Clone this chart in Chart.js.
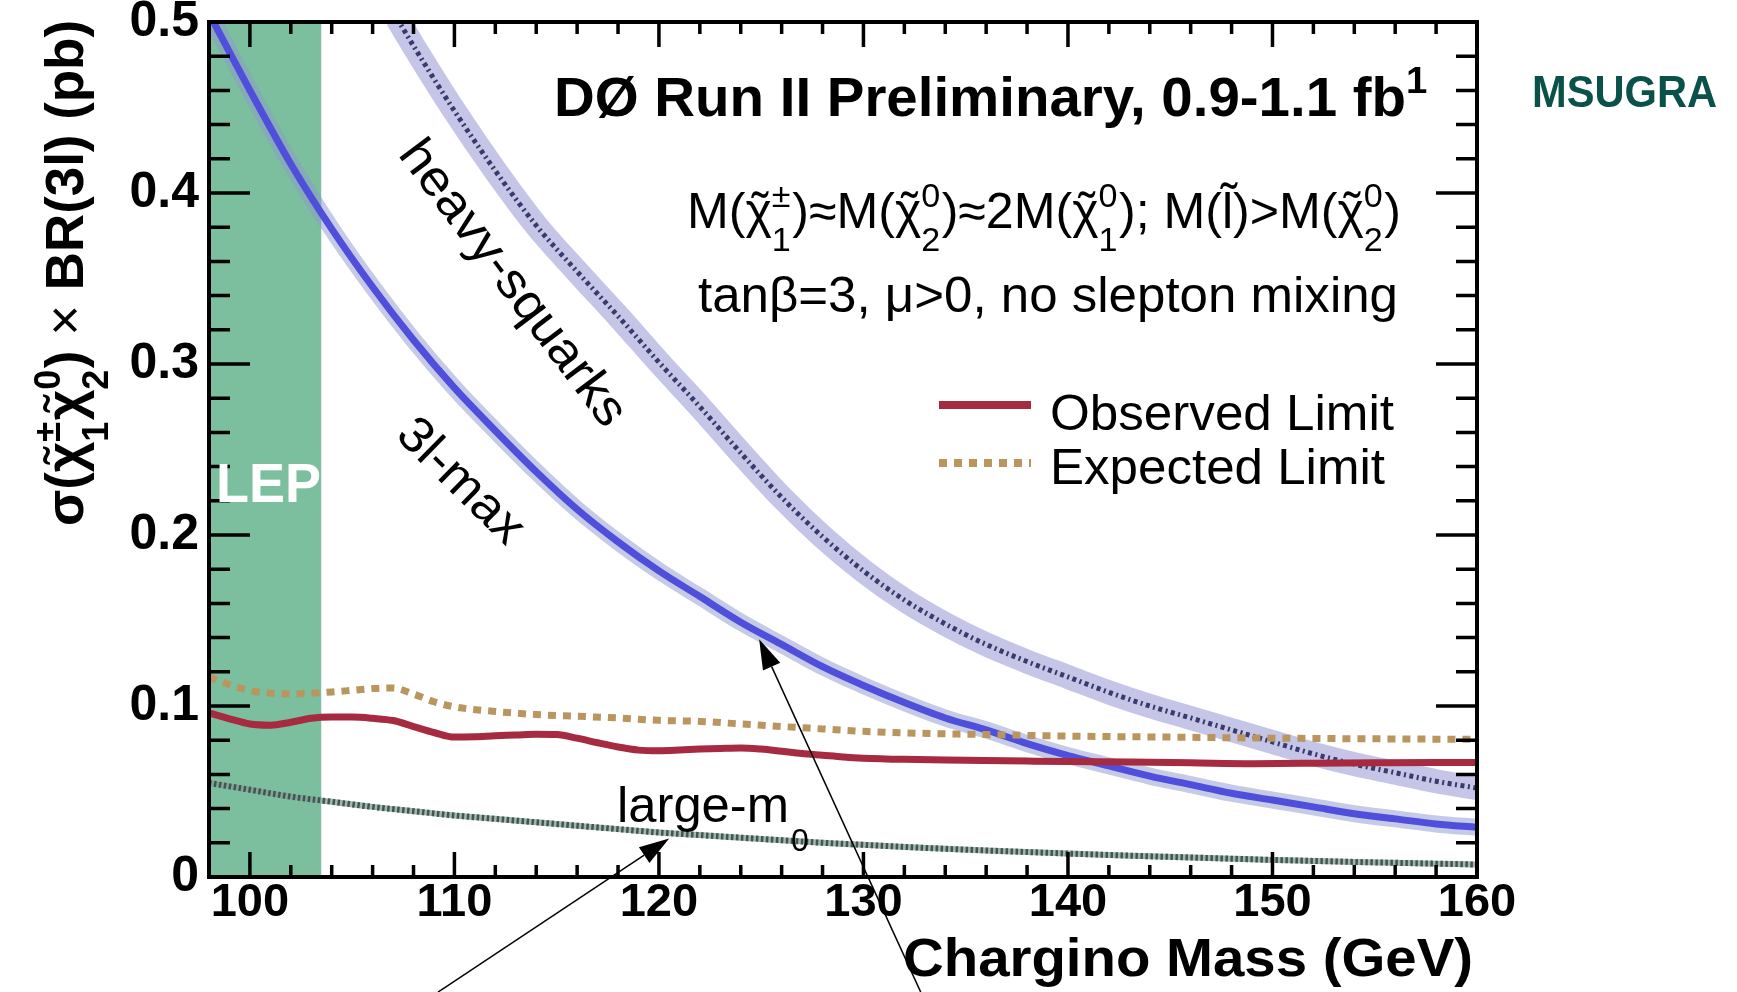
<!DOCTYPE html>
<html lang="en">
<head>
<meta charset="utf-8">
<title>Chargino / neutralino trilepton cross-section limit</title>
<script src="https://cdn.jsdelivr.net/npm/chart.js@4.4.1/dist/chart.umd.min.js"></script>
<style>
  html, body { margin: 0; padding: 0; background: #ffffff; }
  canvas { display: block; }
</style>
</head>
<body>
<canvas id="limitChart" width="1737" height="992"></canvas>
<script>
// ---- data -----------------------------------------------------------------
// chargino mass grid (GeV) for the model predictions
const massGrid = [98, 100, 102, 104, 106, 108, 110, 112, 114, 116, 118, 120, 122, 124, 126, 128,
                  130, 132, 134, 136, 138, 140, 142, 144, 146, 148, 150, 152, 154, 156, 158, 160];

// sigma x BR(3l) in pb, "3l-max" scenario
const sigma3lMax = [0.505, 0.460, 0.417, 0.379, 0.345, 0.314, 0.286, 0.261, 0.237, 0.215, 0.196, 0.179,
                    0.164, 0.149, 0.136, 0.123, 0.112, 0.102, 0.093, 0.086, 0.078, 0.071, 0.065, 0.059,
                    0.054, 0.049, 0.045, 0.041, 0.037, 0.034, 0.031, 0.029];

// sigma x BR(3l) in pb, "large-m0" scenario
const sigmaLargeM0 = [0.055, 0.051, 0.047, 0.044, 0.041, 0.0385, 0.036, 0.034, 0.032, 0.030, 0.028, 0.026,
                      0.0245, 0.023, 0.0215, 0.020, 0.0188, 0.0176, 0.0165, 0.0155, 0.0146, 0.0137, 0.0129, 0.0121,
                      0.0114, 0.0107, 0.0100, 0.0094, 0.0088, 0.0083, 0.0078, 0.0073];

// "heavy-squarks" scenario (starts where it enters the frame)
const massHeavySq = [107.2, 108, 110, 112, 114, 116, 118, 120, 122, 124, 126, 128, 130, 132, 134,
                     136, 138, 140, 142, 144, 146, 148, 150, 152, 154, 156, 158, 160];
const sigmaHeavySq = [0.502, 0.486, 0.448, 0.413, 0.381, 0.354, 0.328, 0.301, 0.275, 0.248, 0.222, 0.199,
                      0.179, 0.162, 0.148, 0.136, 0.126, 0.117, 0.108, 0.100, 0.093, 0.086, 0.079, 0.072,
                      0.066, 0.061, 0.056, 0.052];

// observed 95% CL limit
const massObserved = [98, 99, 100, 101, 102, 103, 104, 105, 106, 107, 108, 109, 110, 111, 112, 113, 114,
                      115, 116, 117, 118, 119, 120, 121, 122, 123, 124, 125, 126, 127, 128, 129, 130,
                      132, 135, 138, 140, 143, 146, 149, 152, 155, 158, 160];
const limitObserved = [0.096, 0.0925, 0.0895, 0.0888, 0.0905, 0.0928, 0.0935, 0.0935, 0.0928, 0.0915, 0.0880,
                       0.0845, 0.0818, 0.0820, 0.0826, 0.0830, 0.0835, 0.0833, 0.0812, 0.0785, 0.0760, 0.0742,
                       0.0738, 0.0742, 0.0748, 0.0752, 0.0755, 0.0748, 0.0735, 0.0722, 0.0712, 0.0702, 0.0695,
                       0.0688, 0.0683, 0.0678, 0.0675, 0.0672, 0.0668, 0.0663, 0.0665, 0.0668, 0.0670, 0.0670];

// expected 95% CL limit
const massExpected = [98, 99, 100, 101, 102, 103, 104, 105, 106, 107, 108, 109, 110, 112, 114, 116, 118,
                      120, 122, 124, 126, 128, 130, 132, 134, 136, 138, 140, 145, 150, 155, 160];
const limitExpected = [0.117, 0.1125, 0.109, 0.1075, 0.107, 0.1075, 0.1082, 0.1092, 0.1102, 0.1105, 0.1070,
                       0.1025, 0.0995, 0.0968, 0.0950, 0.0940, 0.0930, 0.0916, 0.0910, 0.0895, 0.0880, 0.0866,
                       0.0852, 0.0843, 0.0837, 0.0833, 0.0828, 0.0824, 0.0818, 0.0812, 0.0808, 0.0805];

// LEP exclusion in chargino mass (GeV)
const lepExcluded = [98, 103.5];

// axis ticks
const xTickLabels = [100, 110, 120, 130, 140, 150, 160];
const yTickLabels = [0, 0.1, 0.2, 0.3, 0.4, 0.5];
const xMinorStep = 2;
const yMinorStep = 0.02;

// annotation arrows: [mass, pb] of tail and head
const arrowTails = [[109.2, -0.0673], [132.8, -0.0673]];
const arrowHeads = [[120.5, 0.0225], [124.9, 0.139]];

// ---- helpers --------------------------------------------------------------
const FONT = '"Liberation Sans", Arial, Helvetica, sans-serif';
const SCRIPT_SCALE = 0.68;
const fontSpec = (weight, size) => `${weight} ${size}px ${FONT}`;
const pairs = (xs, ys) => xs.map((x, i) => ({x, y: ys[i]}));

function runWidth(ctx, run, size, weight) {
  if (run.text !== undefined) {
    ctx.font = fontSpec(run.weight || weight, size);
    return ctx.measureText(run.text).width;
  }
  ctx.font = fontSpec(run.weight || weight, size * SCRIPT_SCALE);
  const a = run.sup ? ctx.measureText(run.sup).width : 0;
  const b = run.sub ? ctx.measureText(run.sub).width : 0;
  return Math.max(a, b) + size * 0.03;
}

// draws a row of text pieces (stacked sub/superscripts, tilde accents),
// optionally squeezed to a given width
function drawRuns(ctx, runs, o) {
  const size = o.size, weight = o.weight || 'normal';
  let natural = 0;
  for (const r of runs) natural += runWidth(ctx, r, size, weight);
  const k = o.width ? o.width / natural : 1;
  ctx.save();
  ctx.translate(o.x, o.y);
  if (o.angle) ctx.rotate(o.angle);
  ctx.scale(k, 1);
  ctx.fillStyle = o.color || '#000';
  ctx.textAlign = 'left';
  ctx.textBaseline = o.baseline || 'alphabetic';
  let cx = o.align === 'right' ? -natural : o.align === 'center' ? -natural / 2 : 0;
  for (const r of runs) {
    const w = runWidth(ctx, r, size, weight);
    if (r.text !== undefined) {
      ctx.font = fontSpec(r.weight || weight, size);
      ctx.fillText(r.text, cx, 0);
      if (r.tilde !== undefined) {
        ctx.font = fontSpec('normal', size);
        const tw = ctx.measureText('\u02DC').width;
        ctx.fillText('\u02DC', cx + (w - tw) / 2 + size * 0.03, -size * r.tilde);
      }
    } else {
      ctx.font = fontSpec(r.weight || weight, size * SCRIPT_SCALE);
      if (r.sup) ctx.fillText(r.sup, cx, -size * 0.42);
      if (r.sub) ctx.fillText(r.sub, cx, size * 0.46);
    }
    cx += w;
  }
  ctx.restore();
}

const chi = () => ({text: '\u03C7', tilde: 0.02});

// ---- plugins --------------------------------------------------------------
const frameTicks = {
  id: 'frameTicks',
  afterDatasetsDraw(chart) {
    const {ctx, chartArea: a, scales: {x, y}} = chart;
    ctx.save();
    ctx.strokeStyle = '#000';
    ctx.lineCap = 'butt';
    ctx.lineWidth = 3.5;
    const near = (v, w) => Math.abs(v - w) < 1e-6;
    // x ticks, bottom and top, pointing inwards
    for (let m = x.min; m <= x.max + 1e-6; m += xMinorStep) {
      const px = x.getPixelForValue(m);
      if (px < a.left + 2 || px > a.right - 2) continue;
      const major = xTickLabels.some(t => near(t, m));
      const len = major ? 25 : 12;
      ctx.beginPath();
      ctx.moveTo(px, a.bottom); ctx.lineTo(px, a.bottom - len);
      ctx.moveTo(px, a.top); ctx.lineTo(px, a.top + len);
      ctx.stroke();
    }
    // y ticks, left and right
    for (let i = 0; i * yMinorStep <= y.max + 1e-9; i++) {
      const v = i * yMinorStep;
      const py = y.getPixelForValue(v);
      if (py < a.top + 2 || py > a.bottom - 2) continue;
      const major = yTickLabels.some(t => near(t, v));
      const len = major ? 41 : 21;
      ctx.beginPath();
      ctx.moveTo(a.left, py); ctx.lineTo(a.left + len, py);
      ctx.moveTo(a.right, py); ctx.lineTo(a.right - len, py);
      ctx.stroke();
    }
    ctx.lineWidth = 4;
    ctx.strokeRect(a.left, a.top, a.right - a.left, a.bottom - a.top);
    ctx.restore();
  }
};

const annotations = {
  id: 'annotations',
  afterDraw(chart) {
    const {ctx, scales: {x, y}} = chart;
    const ds = chart.data.datasets;

    // arrows
    ctx.save();
    ctx.strokeStyle = '#000';
    ctx.fillStyle = '#000';
    ctx.lineWidth = 1.5;
    arrowTails.forEach((t, i) => {
      const x0 = x.getPixelForValue(t[0]), y0 = y.getPixelForValue(t[1]);
      const x1 = x.getPixelForValue(arrowHeads[i][0]), y1 = y.getPixelForValue(arrowHeads[i][1]);
      const ang = Math.atan2(y1 - y0, x1 - x0);
      const hl = 30, hw = 9.5;
      const bx = x1 - hl * Math.cos(ang), by = y1 - hl * Math.sin(ang);
      ctx.beginPath(); ctx.moveTo(x0, y0); ctx.lineTo(bx, by); ctx.stroke();
      ctx.beginPath();
      ctx.moveTo(x1, y1);
      ctx.lineTo(bx + hw * Math.sin(ang), by - hw * Math.cos(ang));
      ctx.lineTo(bx - hw * Math.sin(ang), by + hw * Math.cos(ang));
      ctx.closePath(); ctx.fill();
    });
    ctx.restore();

    // title block
    drawRuns(ctx, [{text: 'D\u00D8 Run II Preliminary, 0.9-1.1 fb'}, {sup: '1'}],
             {x: 554, y: 116, size: 55, weight: 'bold', width: 875});
    drawRuns(ctx, [{text: 'MSUGRA'}],
             {x: 1532, y: 107, size: 44, weight: 'bold', width: 185, color: '#0a5249'});
    drawRuns(ctx, [
      {text: 'M('}, chi(), {sup: '\u00B1', sub: '1'}, {text: ')\u2248M('}, chi(), {sup: '0', sub: '2'},
      {text: ')\u22482M('}, chi(), {sup: '0', sub: '1'}, {text: '); M('}, {text: 'l', tilde: 0.2},
      {text: ')>M('}, chi(), {sup: '0', sub: '2'}, {text: ')'}
    ], {x: 687, y: 228, size: 50, width: 714});
    drawRuns(ctx, [{text: 'tan\u03B2=3, \u03BC>0, no slepton mixing'}],
             {x: 698, y: 312, size: 50, width: 700});

    // legend
    const legendRows = [
      {set: ds[0], label: 'Observed Limit', y: 405, base: 430, w: 344},
      {set: ds[1], label: 'Expected Limit', y: 463, base: 484, w: 335}
    ];
    legendRows.forEach(r => {
      ctx.save();
      ctx.strokeStyle = r.set.borderColor;
      ctx.lineWidth = r.set.borderWidth + 1;
      ctx.setLineDash(r.set.borderDash || []);
      ctx.lineCap = 'butt';
      ctx.beginPath(); ctx.moveTo(939, r.y); ctx.lineTo(1031, r.y); ctx.stroke();
      ctx.restore();
      drawRuns(ctx, [{text: r.label}], {x: 1050, y: r.base, size: 50, width: r.w});
    });

    // curve labels
    drawRuns(ctx, [{text: 'heavy-squarks'}], {x: 512, y: 284, size: 50, width: 345,
             angle: 53 * Math.PI / 180, align: 'center', baseline: 'middle'});
    drawRuns(ctx, [{text: '3l-max'}], {x: 460, y: 482, size: 50, width: 157,
             angle: 44.5 * Math.PI / 180, align: 'center', baseline: 'middle'});
    drawRuns(ctx, [{text: 'large-m'}], {x: 617, y: 822, size: 50, width: 172});
    drawRuns(ctx, [{text: '0'}], {x: 791, y: 851, size: 32});
    drawRuns(ctx, [{text: 'LEP'}], {x: 216, y: 502, size: 56, weight: 'bold', width: 105, color: '#ffffff'});

    // axis titles
    drawRuns(ctx, [{text: 'Chargino Mass (GeV)'}],
             {x: 1473, y: 976, size: 54, weight: 'bold', width: 570, align: 'right'});
    drawRuns(ctx, [
      {text: '\u03C3('}, chi(), {sup: '\u00B1', sub: '1'}, chi(), {sup: '0', sub: '2'},
      {text: ')'}, {text: ' \u00D7 ', weight: 'normal'}, {text: 'BR(3l) (pb)'}
    ], {x: 83, y: 526, size: 54, weight: 'bold', width: 506, angle: -Math.PI / 2});
  }
};

// ---- chart ----------------------------------------------------------------
const tickFont = size => ({family: FONT, size, weight: 'bold', lineHeight: 1});

new Chart(document.getElementById('limitChart'), {
  type: 'line',
  data: {
    datasets: [
      { label: 'Observed Limit', data: pairs(massObserved, limitObserved), order: 1,
        borderColor: '#a62a40', borderWidth: 7 },
      { label: 'Expected Limit', data: pairs(massExpected, limitExpected), order: 2,
        borderColor: '#b9955f', borderWidth: 7, borderDash: [8, 7], borderCapStyle: 'butt' },
      { label: '3l-max', data: pairs(massGrid, sigma3lMax), order: 3,
        borderColor: '#4f4fdc', borderWidth: 7 },
      { label: '3l-max band', data: pairs(massGrid, sigma3lMax), order: 4,
        borderColor: 'rgba(140,152,205,0.5)', borderWidth: 17 },
      { label: 'heavy-squarks', data: pairs(massHeavySq, sigmaHeavySq), order: 5,
        borderColor: '#3a3a6c', borderWidth: 5, borderDash: [4, 3.5, 2, 3.5], borderCapStyle: 'butt' },
      { label: 'heavy-squarks band', data: pairs(massHeavySq, sigmaHeavySq), order: 6,
        borderColor: 'rgba(150,150,212,0.55)', borderWidth: 24 },
      { label: 'large-m0', data: pairs(massGrid, sigmaLargeM0), order: 7,
        borderColor: '#3d5850', borderWidth: 6, borderDash: [2.5, 2.5], borderCapStyle: 'butt' },
      { label: 'large-m0 base', data: pairs(massGrid, sigmaLargeM0), order: 8,
        borderColor: 'rgba(135,155,145,0.75)', borderWidth: 6 },
      { label: 'LEP', data: lepExcluded.map(m => ({x: m, y: 0.5})), order: 10,
        borderWidth: 0, borderColor: 'rgba(0,0,0,0)', backgroundColor: '#7cbf9f', fill: 'origin',
        cubicInterpolationMode: 'default', tension: 0 }
    ].map(d => Object.assign({pointRadius: 0, clip: 0, fill: false, cubicInterpolationMode: 'monotone'}, d))
  },
  options: {
    responsive: false,
    animation: false,
    devicePixelRatio: 1,
    layout: {padding: {left: 0, top: 22, right: 260, bottom: 0}},
    plugins: {legend: {display: false}, tooltip: {enabled: false}},
    scales: {
      x: {
        type: 'linear', min: 98, max: 160,
        afterBuildTicks: s => { s.ticks = xTickLabels.map(v => ({value: v})); },
        ticks: {font: tickFont(47), color: '#000', padding: 3, maxRotation: 0, autoSkip: false,
                callback: v => String(v)},
        grid: {display: false, drawTicks: false},
        border: {display: false},
        afterFit: s => { s.height = 115; s.paddingLeft = 0; s.paddingRight = 0; }
      },
      y: {
        type: 'linear', min: 0, max: 0.5,
        afterBuildTicks: s => { s.ticks = yTickLabels.map(v => ({value: v})); },
        ticks: {font: tickFont(50), color: '#000', padding: 10,
                callback: v => (v === 0 ? '0' : Number(v).toFixed(1))},
        grid: {display: false, drawTicks: false},
        border: {display: false},
        afterFit: s => { s.width = 209; s.paddingTop = 0; s.paddingBottom = 0; }
      }
    }
  },
  plugins: [frameTicks, annotations]
});
</script>
</body>
</html>
